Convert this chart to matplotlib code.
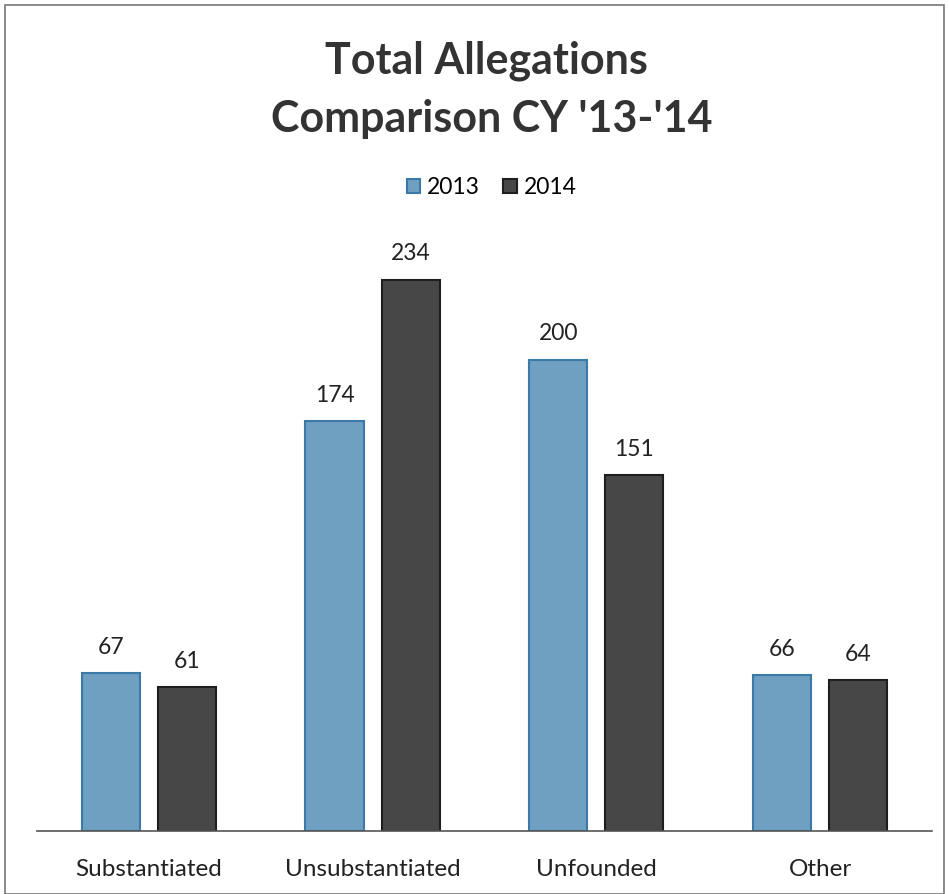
import matplotlib
matplotlib.use("Agg")
import matplotlib.pyplot as plt
from matplotlib.patches import Rectangle
import numpy as np

categories = ["Substantiated", "Unsubstantiated", "Unfounded", "Other"]
series_names = ["2013", "2014"]
values_2013 = [67, 174, 200, 66]
values_2014 = [61, 234, 151, 64]

plt.rcParams['font.family'] = ['Lato', 'DejaVu Sans']

fig = plt.figure(figsize=(9.49, 8.94), dpi=100)
fig.patch.set_facecolor("white")
ax = fig.add_axes([0.039, 0.0705, 0.943, 0.672])

x = np.arange(len(categories))
w = 0.26
off = 0.17
c13, e13 = "#6f9fc1", "#3d79a6"
c14, e14 = "#474747", "#1e1e1e"
b1 = ax.bar(x - off, values_2013, w, color=c13, edgecolor=e13, linewidth=1.5, label=series_names[0])
b2 = ax.bar(x + off, values_2014, w, color=c14, edgecolor=e14, linewidth=1.5, label=series_names[1])

for bars, vals in ((b1, values_2013), (b2, values_2014)):
    for r, v in zip(bars, vals):
        ax.text(r.get_x() + r.get_width() / 2, v + 6.5, str(v), ha="center", va="bottom",
                fontsize=16.5, color="#222222")

ax.set_xlim(-0.5, 3.5)
ax.set_ylim(0, 255)
ax.set_xticks(x)
ax.set_xticklabels(categories, fontsize=17.5, color="#222222")
ax.tick_params(axis="x", length=0, pad=20)
ax.set_yticks([])
for s in ("top", "right", "left"):
    ax.spines[s].set_visible(False)
ax.spines["bottom"].set_color("#555555")
ax.spines["bottom"].set_linewidth(1.2)

fig.text(0.513, 0.932, "Total Allegations", ha="center", va="center",
         fontsize=31, fontweight="bold", color="#333333")
fig.text(0.518, 0.867, "Comparison CY '13-'14", ha="center", va="center",
         fontsize=31, fontweight="bold", color="#333333")

leg = fig.legend(handles=[b1, b2], labels=series_names, loc="center",
                 bbox_to_anchor=(0.518, 0.790), ncol=2, frameon=False,
                 fontsize=16.5, handlelength=0.6, handleheight=0.6,
                 handletextpad=0.3, columnspacing=1.0)

fig.patches.append(Rectangle((0.005, 0.0), 0.99, 0.994, transform=fig.transFigure,
                             fill=False, edgecolor="#777777", linewidth=1.2))

fig.savefig("out.png", dpi=100, facecolor="white")
